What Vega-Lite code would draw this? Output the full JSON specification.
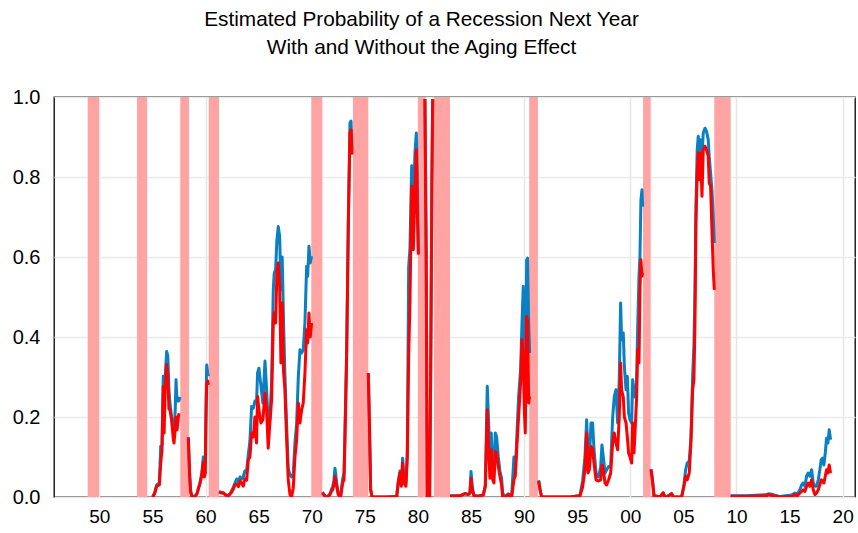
{
  "$schema": "https://vega.github.io/schema/vega-lite/v6.json",
  "width": 801,
  "height": 400,
  "autosize": {"type": "none"},
  "padding": {"left": 54, "top": 97, "right": 3, "bottom": 36},
  "background": "white",
  "title": {
    "text": ["Estimated Probability of a Recession Next Year", "With and Without the Aging Effect"],
    "fontSize": 20.8,
    "fontWeight": "normal",
    "font": "Liberation Sans",
    "color": "black",
    "anchor": "middle",
    "dx": -33,
    "lineHeight": 28,
    "offset": 28
  },
  "config": {
    "font": "Liberation Sans",
    "view": {"stroke": "black", "strokeWidth": 1.3}
  },
  "datasets": {
    "recessions": [
      {"start": 1948.9, "end": 1949.97},
      {"start": 1953.55, "end": 1954.51},
      {"start": 1957.62, "end": 1958.44},
      {"start": 1960.3, "end": 1961.27},
      {"start": 1969.96, "end": 1971.0},
      {"start": 1973.88, "end": 1975.33},
      {"start": 1980.0, "end": 1980.73},
      {"start": 1981.51, "end": 1983.02},
      {"start": 1990.48, "end": 1991.3},
      {"start": 2001.2, "end": 2001.92},
      {"start": 2007.91, "end": 2009.45}
    ],
    "prob": [
      {"t": 1955.02, "seg": 1, "w": 0.0, "n": 0.0},
      {"t": 1955.2, "seg": 1, "w": 0.01, "n": 0.008},
      {"t": 1955.4, "seg": 1, "w": 0.03, "n": 0.027},
      {"t": 1955.65, "seg": 1, "w": 0.035, "n": 0.03},
      {"t": 1955.78, "seg": 1, "w": 0.127, "n": 0.085},
      {"t": 1955.9, "seg": 1, "w": 0.13, "n": 0.117},
      {"t": 1956.02, "seg": 1, "w": 0.302, "n": 0.277},
      {"t": 1956.1, "seg": 1, "w": 0.25, "n": 0.16},
      {"t": 1956.2, "seg": 1, "w": 0.3, "n": 0.27},
      {"t": 1956.34, "seg": 1, "w": 0.364, "n": 0.331},
      {"t": 1956.45, "seg": 1, "w": 0.352, "n": 0.302},
      {"t": 1956.55, "seg": 1, "w": 0.27, "n": 0.22},
      {"t": 1956.65, "seg": 1, "w": 0.235, "n": 0.218},
      {"t": 1956.8, "seg": 1, "w": 0.2, "n": 0.193},
      {"t": 1956.97, "seg": 1, "w": 0.168, "n": 0.143},
      {"t": 1957.03, "seg": 1, "w": 0.16, "n": 0.135},
      {"t": 1957.15, "seg": 1, "w": 0.22, "n": 0.17},
      {"t": 1957.22, "seg": 1, "w": 0.293, "n": 0.2},
      {"t": 1957.32, "seg": 1, "w": 0.24, "n": 0.168},
      {"t": 1957.47, "seg": 1, "w": 0.24, "n": 0.206},
      {"t": 1957.6, "seg": 1, "w": 0.25, "n": 0.205},
      {"t": 1958.38, "seg": 2, "w": 0.15, "n": 0.147},
      {"t": 1958.5, "seg": 2, "w": 0.06, "n": 0.055},
      {"t": 1958.6, "seg": 2, "w": 0.015, "n": 0.01},
      {"t": 1958.75, "seg": 2, "w": 0.002, "n": 0.0},
      {"t": 1959.0, "seg": 2, "w": 0.002, "n": 0.0},
      {"t": 1959.2, "seg": 2, "w": 0.01, "n": 0.008},
      {"t": 1959.48, "seg": 2, "w": 0.036, "n": 0.034},
      {"t": 1959.65, "seg": 2, "w": 0.06, "n": 0.055},
      {"t": 1959.79, "seg": 2, "w": 0.1, "n": 0.087},
      {"t": 1959.88, "seg": 2, "w": 0.08, "n": 0.05},
      {"t": 1959.98, "seg": 2, "w": 0.1, "n": 0.06},
      {"t": 1960.05, "seg": 2, "w": 0.25, "n": 0.2},
      {"t": 1960.11, "seg": 2, "w": 0.33, "n": 0.28},
      {"t": 1960.2, "seg": 2, "w": 0.31, "n": 0.29},
      {"t": 1960.26, "seg": 2, "w": 0.302, "n": 0.28},
      {"t": 1961.27, "seg": 3, "w": 0.013, "n": 0.0125},
      {"t": 1961.5, "seg": 3, "w": 0.012, "n": 0.01},
      {"t": 1961.68, "seg": 3, "w": 0.01, "n": 0.01},
      {"t": 1961.9, "seg": 3, "w": 0.005, "n": 0.005},
      {"t": 1962.15, "seg": 3, "w": 0.003, "n": 0.003},
      {"t": 1962.4, "seg": 3, "w": 0.012, "n": 0.01},
      {"t": 1962.62, "seg": 3, "w": 0.025, "n": 0.02},
      {"t": 1962.77, "seg": 3, "w": 0.035, "n": 0.03},
      {"t": 1962.93, "seg": 3, "w": 0.045, "n": 0.032},
      {"t": 1963.1, "seg": 3, "w": 0.037, "n": 0.026},
      {"t": 1963.25, "seg": 3, "w": 0.05, "n": 0.04},
      {"t": 1963.4, "seg": 3, "w": 0.045, "n": 0.035},
      {"t": 1963.55, "seg": 3, "w": 0.05, "n": 0.027},
      {"t": 1963.7, "seg": 3, "w": 0.065, "n": 0.045},
      {"t": 1963.87, "seg": 3, "w": 0.067, "n": 0.042},
      {"t": 1964.03, "seg": 3, "w": 0.106, "n": 0.093},
      {"t": 1964.18, "seg": 3, "w": 0.14, "n": 0.1},
      {"t": 1964.34, "seg": 3, "w": 0.226, "n": 0.16},
      {"t": 1964.5, "seg": 3, "w": 0.222, "n": 0.15},
      {"t": 1964.65, "seg": 3, "w": 0.24, "n": 0.2},
      {"t": 1964.8, "seg": 3, "w": 0.235, "n": 0.135},
      {"t": 1964.9, "seg": 3, "w": 0.31, "n": 0.251},
      {"t": 1965.03, "seg": 3, "w": 0.322, "n": 0.218},
      {"t": 1965.22, "seg": 3, "w": 0.277, "n": 0.185},
      {"t": 1965.4, "seg": 3, "w": 0.235, "n": 0.193},
      {"t": 1965.6, "seg": 3, "w": 0.34, "n": 0.26},
      {"t": 1965.75, "seg": 3, "w": 0.268, "n": 0.218},
      {"t": 1965.9, "seg": 3, "w": 0.185, "n": 0.122},
      {"t": 1966.06, "seg": 3, "w": 0.193, "n": 0.185},
      {"t": 1966.22, "seg": 3, "w": 0.285, "n": 0.243},
      {"t": 1966.38, "seg": 3, "w": 0.518, "n": 0.435},
      {"t": 1966.47, "seg": 3, "w": 0.56, "n": 0.46},
      {"t": 1966.6, "seg": 3, "w": 0.568, "n": 0.435},
      {"t": 1966.72, "seg": 3, "w": 0.643, "n": 0.56},
      {"t": 1966.85, "seg": 3, "w": 0.676, "n": 0.585},
      {"t": 1966.98, "seg": 3, "w": 0.652, "n": 0.527},
      {"t": 1967.1, "seg": 3, "w": 0.518, "n": 0.335},
      {"t": 1967.22, "seg": 3, "w": 0.6, "n": 0.485},
      {"t": 1967.35, "seg": 3, "w": 0.435, "n": 0.312},
      {"t": 1967.47, "seg": 3, "w": 0.31, "n": 0.27},
      {"t": 1967.63, "seg": 3, "w": 0.185, "n": 0.15},
      {"t": 1967.79, "seg": 3, "w": 0.07, "n": 0.043},
      {"t": 1967.95, "seg": 3, "w": 0.056, "n": 0.006},
      {"t": 1968.1, "seg": 3, "w": 0.05, "n": 0.0},
      {"t": 1968.26, "seg": 3, "w": 0.058, "n": 0.022},
      {"t": 1968.42, "seg": 3, "w": 0.135, "n": 0.1},
      {"t": 1968.58, "seg": 3, "w": 0.185, "n": 0.143},
      {"t": 1968.74, "seg": 3, "w": 0.302, "n": 0.235},
      {"t": 1968.89, "seg": 3, "w": 0.368, "n": 0.185},
      {"t": 1969.05, "seg": 3, "w": 0.36, "n": 0.218},
      {"t": 1969.2, "seg": 3, "w": 0.368, "n": 0.235},
      {"t": 1969.36, "seg": 3, "w": 0.435, "n": 0.31},
      {"t": 1969.52, "seg": 3, "w": 0.576, "n": 0.418},
      {"t": 1969.62, "seg": 3, "w": 0.552, "n": 0.385},
      {"t": 1969.74, "seg": 3, "w": 0.627, "n": 0.46},
      {"t": 1969.86, "seg": 3, "w": 0.585, "n": 0.4},
      {"t": 1969.99, "seg": 3, "w": 0.602, "n": 0.435},
      {"t": 1971.0, "seg": 4, "w": 0.012, "n": 0.01},
      {"t": 1971.2, "seg": 4, "w": 0.005, "n": 0.004},
      {"t": 1971.4, "seg": 4, "w": 0.0, "n": 0.0},
      {"t": 1971.6, "seg": 4, "w": 0.004, "n": 0.003},
      {"t": 1971.72, "seg": 4, "w": 0.008, "n": 0.006},
      {"t": 1971.87, "seg": 4, "w": 0.02, "n": 0.015},
      {"t": 1971.97, "seg": 4, "w": 0.025, "n": 0.018},
      {"t": 1972.08, "seg": 4, "w": 0.04, "n": 0.03},
      {"t": 1972.19, "seg": 4, "w": 0.072, "n": 0.052},
      {"t": 1972.35, "seg": 4, "w": 0.035, "n": 0.027},
      {"t": 1972.5, "seg": 4, "w": 0.008, "n": 0.006},
      {"t": 1972.72, "seg": 4, "w": 0.002, "n": 0.0},
      {"t": 1972.91, "seg": 4, "w": 0.045, "n": 0.035},
      {"t": 1973.04, "seg": 4, "w": 0.06, "n": 0.043},
      {"t": 1973.13, "seg": 4, "w": 0.168, "n": 0.143},
      {"t": 1973.29, "seg": 4, "w": 0.37, "n": 0.352},
      {"t": 1973.45, "seg": 4, "w": 0.7, "n": 0.685},
      {"t": 1973.6, "seg": 4, "w": 0.935, "n": 0.91},
      {"t": 1973.7, "seg": 4, "w": 0.94, "n": 0.918},
      {"t": 1973.79, "seg": 4, "w": 0.868, "n": 0.856},
      {"t": 1975.33, "seg": 5, "w": 0.31, "n": 0.31},
      {"t": 1975.43, "seg": 5, "w": 0.185, "n": 0.185},
      {"t": 1975.55, "seg": 5, "w": 0.018, "n": 0.018},
      {"t": 1975.68, "seg": 5, "w": 0.0, "n": 0.0},
      {"t": 1977.0, "seg": 5, "w": 0.0, "n": 0.0},
      {"t": 1978.0, "seg": 5, "w": 0.002, "n": 0.0},
      {"t": 1978.15, "seg": 5, "w": 0.04, "n": 0.035},
      {"t": 1978.31, "seg": 5, "w": 0.065, "n": 0.06},
      {"t": 1978.44, "seg": 5, "w": 0.03, "n": 0.027},
      {"t": 1978.56, "seg": 5, "w": 0.097, "n": 0.085},
      {"t": 1978.69, "seg": 5, "w": 0.04, "n": 0.035},
      {"t": 1978.87, "seg": 5, "w": 0.035, "n": 0.027},
      {"t": 1979.0, "seg": 5, "w": 0.11, "n": 0.1},
      {"t": 1979.13, "seg": 5, "w": 0.576, "n": 0.352},
      {"t": 1979.25, "seg": 5, "w": 0.62, "n": 0.485},
      {"t": 1979.41, "seg": 5, "w": 0.828, "n": 0.777},
      {"t": 1979.57, "seg": 5, "w": 0.735, "n": 0.618},
      {"t": 1979.72, "seg": 5, "w": 0.86, "n": 0.768},
      {"t": 1979.85, "seg": 5, "w": 0.91, "n": 0.868},
      {"t": 1979.94, "seg": 5, "w": 0.81, "n": 0.718},
      {"t": 1980.04, "seg": 5, "w": 0.61, "n": 0.606},
      {"t": 1980.66, "seg": 6, "w": 0.995, "n": 0.995},
      {"t": 1980.78, "seg": 6, "w": 0.6, "n": 0.6},
      {"t": 1980.88, "seg": 6, "w": 0.0, "n": 0.0},
      {"t": 1981.1, "seg": 6, "w": 0.0, "n": 0.0},
      {"t": 1981.2, "seg": 6, "w": 0.3, "n": 0.3},
      {"t": 1981.32, "seg": 6, "w": 0.8, "n": 0.8},
      {"t": 1981.39, "seg": 6, "w": 0.995, "n": 0.995},
      {"t": 1983.02, "seg": 7, "w": 0.003, "n": 0.002},
      {"t": 1983.96, "seg": 7, "w": 0.003, "n": 0.003},
      {"t": 1984.43, "seg": 7, "w": 0.009, "n": 0.008},
      {"t": 1984.74, "seg": 7, "w": 0.007, "n": 0.006},
      {"t": 1984.9, "seg": 7, "w": 0.01, "n": 0.01},
      {"t": 1985.0, "seg": 7, "w": 0.064, "n": 0.047},
      {"t": 1985.12, "seg": 7, "w": 0.025, "n": 0.018},
      {"t": 1985.28, "seg": 7, "w": 0.004, "n": 0.003},
      {"t": 1985.7, "seg": 7, "w": 0.002, "n": 0.002},
      {"t": 1986.16, "seg": 7, "w": 0.006, "n": 0.005},
      {"t": 1986.35, "seg": 7, "w": 0.03, "n": 0.027},
      {"t": 1986.53, "seg": 7, "w": 0.277, "n": 0.218},
      {"t": 1986.66, "seg": 7, "w": 0.185, "n": 0.118},
      {"t": 1986.78, "seg": 7, "w": 0.085, "n": 0.047},
      {"t": 1986.91, "seg": 7, "w": 0.16, "n": 0.118},
      {"t": 1987.04, "seg": 7, "w": 0.06, "n": 0.043},
      {"t": 1987.16, "seg": 7, "w": 0.07, "n": 0.035},
      {"t": 1987.29, "seg": 7, "w": 0.16, "n": 0.114},
      {"t": 1987.41, "seg": 7, "w": 0.15, "n": 0.11},
      {"t": 1987.57, "seg": 7, "w": 0.1, "n": 0.076},
      {"t": 1987.72, "seg": 7, "w": 0.065, "n": 0.052},
      {"t": 1987.88, "seg": 7, "w": 0.047, "n": 0.03},
      {"t": 1987.98, "seg": 7, "w": 0.01, "n": 0.0},
      {"t": 1988.2, "seg": 7, "w": 0.0, "n": 0.0},
      {"t": 1988.51, "seg": 7, "w": 0.008, "n": 0.006},
      {"t": 1988.83, "seg": 7, "w": 0.002, "n": 0.0},
      {"t": 1989.04, "seg": 7, "w": 0.1, "n": 0.043},
      {"t": 1989.17, "seg": 7, "w": 0.06, "n": 0.052},
      {"t": 1989.3, "seg": 7, "w": 0.143, "n": 0.118},
      {"t": 1989.48, "seg": 7, "w": 0.25, "n": 0.2},
      {"t": 1989.67, "seg": 7, "w": 0.318, "n": 0.285},
      {"t": 1989.8, "seg": 7, "w": 0.435, "n": 0.393},
      {"t": 1989.92, "seg": 7, "w": 0.527, "n": 0.352},
      {"t": 1990.02, "seg": 7, "w": 0.38, "n": 0.218},
      {"t": 1990.11, "seg": 7, "w": 0.218, "n": 0.16},
      {"t": 1990.24, "seg": 7, "w": 0.593, "n": 0.452},
      {"t": 1990.33, "seg": 7, "w": 0.597, "n": 0.44},
      {"t": 1990.43, "seg": 7, "w": 0.435, "n": 0.235},
      {"t": 1990.52, "seg": 7, "w": 0.36, "n": 0.252},
      {"t": 1991.37, "seg": 8, "w": 0.042, "n": 0.04},
      {"t": 1991.5, "seg": 8, "w": 0.02, "n": 0.018},
      {"t": 1991.65, "seg": 8, "w": 0.0, "n": 0.0},
      {"t": 1993.0, "seg": 8, "w": 0.0, "n": 0.0},
      {"t": 1994.32, "seg": 8, "w": 0.0, "n": 0.0},
      {"t": 1995.26, "seg": 8, "w": 0.004, "n": 0.003},
      {"t": 1995.51, "seg": 8, "w": 0.04, "n": 0.025},
      {"t": 1995.73, "seg": 8, "w": 0.1, "n": 0.068},
      {"t": 1995.89, "seg": 8, "w": 0.193, "n": 0.16},
      {"t": 1996.02, "seg": 8, "w": 0.1, "n": 0.06},
      {"t": 1996.14, "seg": 8, "w": 0.09, "n": 0.068},
      {"t": 1996.3, "seg": 8, "w": 0.185, "n": 0.126},
      {"t": 1996.45, "seg": 8, "w": 0.185, "n": 0.122},
      {"t": 1996.58, "seg": 8, "w": 0.12, "n": 0.085},
      {"t": 1996.77, "seg": 8, "w": 0.06, "n": 0.043},
      {"t": 1996.99, "seg": 8, "w": 0.05, "n": 0.04},
      {"t": 1997.21, "seg": 8, "w": 0.075, "n": 0.043},
      {"t": 1997.33, "seg": 8, "w": 0.13, "n": 0.08},
      {"t": 1997.46, "seg": 8, "w": 0.1, "n": 0.068},
      {"t": 1997.62, "seg": 8, "w": 0.06, "n": 0.035},
      {"t": 1997.77, "seg": 8, "w": 0.068, "n": 0.03},
      {"t": 1997.96, "seg": 8, "w": 0.076, "n": 0.043},
      {"t": 1998.15, "seg": 8, "w": 0.076, "n": 0.06},
      {"t": 1998.34, "seg": 8, "w": 0.2, "n": 0.135},
      {"t": 1998.49, "seg": 8, "w": 0.251, "n": 0.16},
      {"t": 1998.65, "seg": 8, "w": 0.268, "n": 0.135},
      {"t": 1998.81, "seg": 8, "w": 0.185, "n": 0.118},
      {"t": 1998.96, "seg": 8, "w": 0.293, "n": 0.2},
      {"t": 1999.09, "seg": 8, "w": 0.485, "n": 0.335},
      {"t": 1999.18, "seg": 8, "w": 0.393, "n": 0.268},
      {"t": 1999.34, "seg": 8, "w": 0.41, "n": 0.25},
      {"t": 1999.44, "seg": 8, "w": 0.327, "n": 0.2},
      {"t": 1999.6, "seg": 8, "w": 0.268, "n": 0.185},
      {"t": 1999.72, "seg": 8, "w": 0.302, "n": 0.15},
      {"t": 1999.84, "seg": 8, "w": 0.21, "n": 0.11},
      {"t": 1999.97, "seg": 8, "w": 0.193, "n": 0.1},
      {"t": 2000.13, "seg": 8, "w": 0.185, "n": 0.085},
      {"t": 2000.22, "seg": 8, "w": 0.293, "n": 0.185},
      {"t": 2000.35, "seg": 8, "w": 0.251, "n": 0.11},
      {"t": 2000.47, "seg": 8, "w": 0.25, "n": 0.176},
      {"t": 2000.6, "seg": 8, "w": 0.3, "n": 0.251},
      {"t": 2000.69, "seg": 8, "w": 0.418, "n": 0.368},
      {"t": 2000.82, "seg": 8, "w": 0.552, "n": 0.335},
      {"t": 2000.91, "seg": 8, "w": 0.602, "n": 0.518},
      {"t": 2001.0, "seg": 8, "w": 0.743, "n": 0.593},
      {"t": 2001.1, "seg": 8, "w": 0.768, "n": 0.552},
      {"t": 2001.16, "seg": 8, "w": 0.726, "n": 0.56},
      {"t": 2001.95, "seg": 9, "w": 0.07, "n": 0.068},
      {"t": 2002.08, "seg": 9, "w": 0.045, "n": 0.043},
      {"t": 2002.23, "seg": 9, "w": 0.004, "n": 0.003},
      {"t": 2002.79, "seg": 9, "w": 0.0, "n": 0.0},
      {"t": 2003.1, "seg": 9, "w": 0.011, "n": 0.01},
      {"t": 2003.25, "seg": 9, "w": 0.0, "n": 0.0},
      {"t": 2003.42, "seg": 9, "w": 0.0, "n": 0.0},
      {"t": 2003.89, "seg": 9, "w": 0.009, "n": 0.008},
      {"t": 2004.05, "seg": 9, "w": 0.0, "n": 0.0},
      {"t": 2004.83, "seg": 9, "w": 0.0, "n": 0.0},
      {"t": 2005.05, "seg": 9, "w": 0.03, "n": 0.027},
      {"t": 2005.21, "seg": 9, "w": 0.068, "n": 0.052},
      {"t": 2005.36, "seg": 9, "w": 0.085, "n": 0.043},
      {"t": 2005.55, "seg": 9, "w": 0.09, "n": 0.06},
      {"t": 2005.71, "seg": 9, "w": 0.15, "n": 0.135},
      {"t": 2005.87, "seg": 9, "w": 0.302, "n": 0.268},
      {"t": 2005.99, "seg": 9, "w": 0.377, "n": 0.293},
      {"t": 2006.09, "seg": 9, "w": 0.518, "n": 0.435},
      {"t": 2006.18, "seg": 9, "w": 0.727, "n": 0.685},
      {"t": 2006.3, "seg": 9, "w": 0.868, "n": 0.81},
      {"t": 2006.4, "seg": 9, "w": 0.902, "n": 0.86},
      {"t": 2006.49, "seg": 9, "w": 0.86, "n": 0.793},
      {"t": 2006.62, "seg": 9, "w": 0.893, "n": 0.86},
      {"t": 2006.75, "seg": 9, "w": 0.852, "n": 0.752},
      {"t": 2006.87, "seg": 9, "w": 0.91, "n": 0.868},
      {"t": 2007.03, "seg": 9, "w": 0.922, "n": 0.877},
      {"t": 2007.18, "seg": 9, "w": 0.914, "n": 0.868},
      {"t": 2007.34, "seg": 9, "w": 0.893, "n": 0.852},
      {"t": 2007.43, "seg": 9, "w": 0.852, "n": 0.785},
      {"t": 2007.56, "seg": 9, "w": 0.81, "n": 0.777},
      {"t": 2007.69, "seg": 9, "w": 0.768, "n": 0.668},
      {"t": 2007.81, "seg": 9, "w": 0.702, "n": 0.568},
      {"t": 2007.91, "seg": 9, "w": 0.635, "n": 0.518},
      {"t": 2009.45, "seg": 10, "w": 0.003, "n": 0.002},
      {"t": 2011.0, "seg": 10, "w": 0.003, "n": 0.002},
      {"t": 2012.83, "seg": 10, "w": 0.006, "n": 0.003},
      {"t": 2013.0, "seg": 10, "w": 0.008, "n": 0.006},
      {"t": 2013.46, "seg": 10, "w": 0.006, "n": 0.003},
      {"t": 2013.8, "seg": 10, "w": 0.003, "n": 0.002},
      {"t": 2014.09, "seg": 10, "w": 0.001, "n": 0.0},
      {"t": 2015.19, "seg": 10, "w": 0.005, "n": 0.002},
      {"t": 2015.5, "seg": 10, "w": 0.01, "n": 0.006},
      {"t": 2015.72, "seg": 10, "w": 0.006, "n": 0.003},
      {"t": 2015.97, "seg": 10, "w": 0.018, "n": 0.01},
      {"t": 2016.13, "seg": 10, "w": 0.03, "n": 0.014},
      {"t": 2016.28, "seg": 10, "w": 0.035, "n": 0.018},
      {"t": 2016.44, "seg": 10, "w": 0.027, "n": 0.014},
      {"t": 2016.6, "seg": 10, "w": 0.052, "n": 0.027},
      {"t": 2016.75, "seg": 10, "w": 0.06, "n": 0.035},
      {"t": 2016.91, "seg": 10, "w": 0.052, "n": 0.027},
      {"t": 2017.07, "seg": 10, "w": 0.068, "n": 0.043},
      {"t": 2017.23, "seg": 10, "w": 0.035, "n": 0.018},
      {"t": 2017.38, "seg": 10, "w": 0.027, "n": 0.006},
      {"t": 2017.54, "seg": 10, "w": 0.027, "n": 0.01},
      {"t": 2017.7, "seg": 10, "w": 0.043, "n": 0.018},
      {"t": 2017.85, "seg": 10, "w": 0.068, "n": 0.031},
      {"t": 2017.98, "seg": 10, "w": 0.093, "n": 0.043},
      {"t": 2018.1, "seg": 10, "w": 0.097, "n": 0.039},
      {"t": 2018.23, "seg": 10, "w": 0.08, "n": 0.035},
      {"t": 2018.36, "seg": 10, "w": 0.11, "n": 0.052},
      {"t": 2018.48, "seg": 10, "w": 0.147, "n": 0.068},
      {"t": 2018.61, "seg": 10, "w": 0.135, "n": 0.06},
      {"t": 2018.73, "seg": 10, "w": 0.168, "n": 0.08},
      {"t": 2018.86, "seg": 10, "w": 0.143, "n": 0.06}
    ]
  },
  "layer": [
    {
      "data": {"name": "recessions"},
      "mark": {"type": "rect", "color": "#ffa3a3", "opacity": 1},
      "encoding": {
        "x": {
          "field": "start",
          "type": "quantitative",
          "scale": {"domain": [1945.73, 2021.16], "nice": false, "zero": false},
          "axis": {
            "title": null,
            "values": [1950, 1955, 1960, 1965, 1970, 1975, 1980, 1985, 1990, 1995, 2000, 2005, 2010, 2015, 2020],
            "labelExpr": "format(datum.value % 100, '02d')",
            "labelFontSize": 19,
            "labelColor": "black",
            "labelPadding": 10,
            "labelFlush": false,
            "labelOverlap": false,
            "ticks": false,
            "domain": false,
            "grid": true,
            "gridColor": "#e6e6e6",
            "gridWidth": 1.5,
            "gridOpacity": {"condition": {"test": "datum.value % 10 == 0", "value": 1}, "value": 0}
          }
        },
        "x2": {"field": "end"}
      }
    },
    {
      "data": {"name": "prob"},
      "mark": {"type": "line", "color": "#0a7fc2", "strokeWidth": 3, "strokeJoin": "round", "clip": true},
      "encoding": {
        "x": {"field": "t", "type": "quantitative"},
        "y": {
          "field": "w",
          "type": "quantitative",
          "scale": {"domain": [0, 1], "nice": false},
          "axis": {
            "title": null,
            "values": [0, 0.2, 0.4, 0.6, 0.8, 1.0],
            "format": ".1f",
            "labelFontSize": 20,
            "labelColor": "black",
            "labelPadding": 14,
            "labelFlush": false,
            "ticks": false,
            "domain": false,
            "grid": true,
            "gridColor": "#ebebeb",
            "gridWidth": 1.5
          }
        },
        "detail": {"field": "seg", "type": "nominal"}
      }
    },
    {
      "data": {"name": "prob"},
      "mark": {"type": "line", "color": "#ff0000", "strokeWidth": 3, "strokeJoin": "round", "clip": true},
      "encoding": {
        "x": {"field": "t", "type": "quantitative"},
        "y": {"field": "n", "type": "quantitative"},
        "detail": {"field": "seg", "type": "nominal"}
      }
    }
  ]
}
